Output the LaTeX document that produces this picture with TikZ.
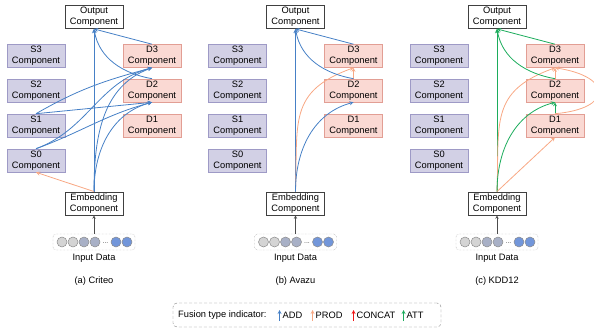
\documentclass[tikz,border=0pt]{standalone}
\usepackage{fontspec}
\setmainfont{Liberation Sans}
\definecolor{addc}{RGB}{70,128,198}
\definecolor{prodc}{RGB}{248,168,132}
\definecolor{concc}{RGB}{240,20,20}
\definecolor{attc}{RGB}{28,172,92}
\definecolor{sfill}{RGB}{210,208,229}
\definecolor{sline}{RGB}{158,154,198}
\definecolor{dfill}{RGB}{250,217,211}
\definecolor{dline}{RGB}{226,158,148}
\definecolor{cl}{RGB}{212,212,212}
\definecolor{cm}{RGB}{168,176,198}
\definecolor{cd}{RGB}{114,150,218}
\tikzset{
  comp/.style={minimum width=58pt,minimum height=23pt,inner sep=1pt,align=center,font=\fontsize{9.3}{11}\selectfont},
  sbox/.style={comp,fill=sfill,draw=sline,line width=0.6pt},
  dbox/.style={comp,fill=dfill,draw=dline,line width=0.6pt},
  wbox/.style={comp,fill=white,draw=black!75,line width=0.9pt},
  add/.style={->,addc,line width=0.8pt},
  prod/.style={->,prodc,line width=0.8pt},
  att/.style={->,attc,line width=0.8pt},
  txt/.style={font=\fontsize{9.3}{11}\selectfont,inner sep=0pt}
}
\begin{document}
\begin{tikzpicture}[>=stealth,x=1pt,y=-1pt]
\useasboundingbox (0,0) rectangle (594,329);
\clip (0,0) rectangle (594,329);
% three panels
\foreach \p/\dx/\cap in {a/0/{(a) Criteo},b/201.5/{(b) Avazu},c/403/{(c) KDD12}}{
  \node[wbox] (\p-out) at (94+\dx,17) {Output\\Component};
  \foreach \i/\y in {3/56,2/90.5,1/125.5,0/160.5}
    \node[sbox] (\p-s\i) at (36+\dx,\y) {S\i\\Component};
  \foreach \i/\y in {3/56,2/90.5,1/125.5}
    \node[dbox] (\p-d\i) at (152+\dx,\y) {D\i\\Component};
  \node[wbox] (\p-emb) at (94+\dx,203.5) {Embedding\\Component};
  \node[draw=black!45,densely dotted,rounded corners=3pt,minimum width=82pt,minimum height=16pt] (\p-in) at (94+\dx,242) {};
  \foreach \k/\c in {-32/cl,-21/cl,-10/cm,1/cm,22/cd,33/cd}
    \draw[fill=\c,draw=black!45,line width=0.5pt] (94+\dx+\k,242) circle (5pt);
  \node[txt,font=\fontsize{7}{7}\selectfont,text=black!70] (\p-dots) at (94+\dx+11.5,243) {...};
  \node[txt] (\p-lab) at (94+\dx,258) {Input Data};
  \node[txt] (\p-cap) at (94+\dx,281) {\cap};
  \draw[->,black!70,line width=0.5pt] (\p-in) -- (\p-emb);
}
% (a) Criteo
\draw[add] (a-emb.north) -- (a-out.south);
\draw[add] (a-emb.north) to[out=90,in=200] (a-d3.south);
\draw[add] (a-emb.north) to[out=90,in=195] (a-d2.south);
\draw[add] (a-s1.north) to[out=30,in=195] (a-d3.south);
\draw[add] (a-s1.north) -- (a-d2.south);
\draw[add] (a-s0.north) to[out=20,in=195] (a-d3.south);
\draw[add] (a-s0.north) to[out=20,in=195] (a-d2.south);
\draw[add] (a-d3.north) -- (a-out.south);
\draw[add] (a-d2.north) to[out=170,in=-80] (a-out.south);
\draw[prod] (a-emb.north) -- (a-s0.south);
% (b) Avazu
\draw[add] (b-emb.north) -- (b-out.south);
\draw[prod] (b-emb.north) to[out=88,in=200,looseness=1.3] (b-d3.south);
\draw[add] (b-emb.north) to[out=90,in=195] (b-d2.south);
\draw[prod] (b-d2.north) -- (b-d3.south);
\draw[add] (b-d3.north) -- (b-out.south);
\draw[add] (b-d2.north) to[out=170,in=-80] (b-out.south);
% (c) KDD12
\draw[att] (c-emb.north) -- (c-out.south);
\draw[prod] (c-emb.north) to[out=88,in=200,looseness=1.3] (c-d3.south);
\draw[att] (c-emb.north) to[out=90,in=195] (c-d2.south);
\draw[prod] (c-emb.north) -- (c-d1.south);
\draw[prod] (c-d2.north) -- (c-d3.south);
\draw[att] (c-d1.north) -- (c-d2.south);
\draw[prod] (c-d1.north) .. controls +(58,-5) and +(58,9) .. (c-d3.south);
\draw[att] (c-d3.north) -- (c-out.south);
\draw[att] (c-d2.north) to[out=170,in=-80] (c-out.south);
% legend
\node[draw=black!50,densely dashed,rounded corners=4pt,minimum width=268pt,minimum height=24pt] (key) at (307,315) {};
\node[txt,anchor=west] (key-t) at (178,315) {Fusion type indicator:};
\node[txt,anchor=west] (key-add) at (282.5,315) {ADD};
\node[txt,anchor=west] (key-prod) at (315.5,315) {PROD};
\node[txt,anchor=west] (key-conc) at (356.5,315) {CONCAT};
\node[txt,anchor=west] (key-att) at (406.5,315) {ATT};
\draw[add] ([xshift=-3pt,yshift=-6pt]key-add.west) -- +(0,-11);
\draw[prod] ([xshift=-3pt,yshift=-6pt]key-prod.west) -- +(0,-11);
\draw[->,concc,line width=0.8pt] ([xshift=-3pt,yshift=-6pt]key-conc.west) -- +(0,-11);
\draw[att] ([xshift=-3pt,yshift=-6pt]key-att.west) -- +(0,-11);
\end{tikzpicture}
\end{document}
